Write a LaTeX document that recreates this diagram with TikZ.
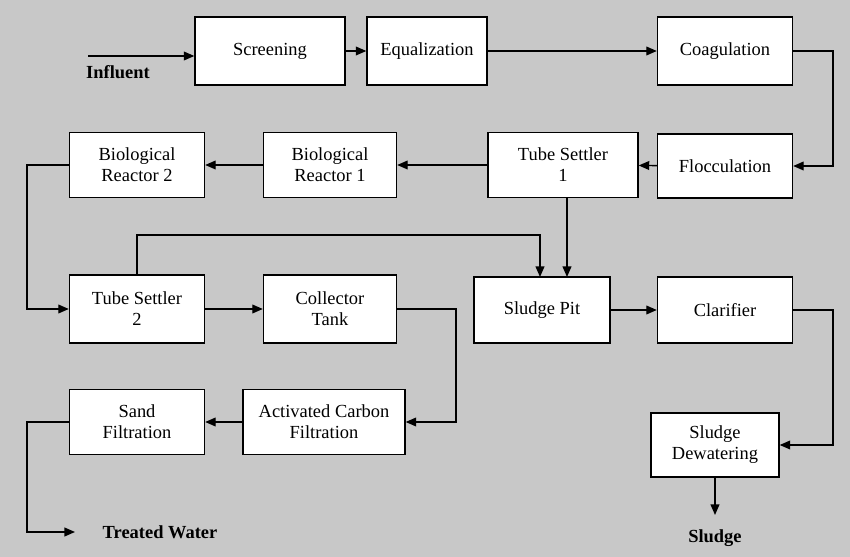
\documentclass[tikz,border=0pt]{standalone}
\usepackage{fontspec}
\setmainfont{Liberation Serif}
\usetikzlibrary{arrows.meta}
\begin{document}
\begin{tikzpicture}[x=0.02cm,y=-0.02cm,
  box/.style={draw,fill=white,line width=0.8pt,align=center,inner sep=0pt,font=\fontsize{10.5}{12}\selectfont},
  arr/.style={-{Triangle[length=6pt,width=5pt]},line width=0.8pt},
  lbl/.style={font=\fontsize{10.5}{12}\selectfont\bfseries}]
\fill[gray!40!white,fill={rgb,255:red,200;green,200;blue,200}] (0,0) rectangle (850,557);
\useasboundingbox (0,0) rectangle (850,557);
\node[box,minimum width=3cm,minimum height=1.36cm] (scr) at (270,51) {Screening};
\node[box,minimum width=2.4cm,minimum height=1.36cm] (eq) at (427,51) {Equalization};
\node[box,minimum width=2.7cm,minimum height=1.36cm] (coag) at (725,51) {Coagulation};
\node[box,minimum width=2.7cm,minimum height=1.28cm] (floc) at (725,166) {Flocculation};
\node[box,minimum width=3cm,minimum height=1.3cm] (ts1) at (563,165) {Tube Settler\\1};
\node[box,minimum width=2.66cm,minimum height=1.3cm] (br1) at (330,165) {Biological\\Reactor 1};
\node[box,minimum width=2.7cm,minimum height=1.3cm] (br2) at (137,165) {Biological\\Reactor 2};
\node[box,minimum width=2.7cm,minimum height=1.36cm] (ts2) at (137,309) {Tube Settler\\2};
\node[box,minimum width=2.66cm,minimum height=1.36cm] (ct) at (330,309) {Collector\\Tank};
\node[box,minimum width=2.72cm,minimum height=1.32cm] (sp) at (542,310) {Sludge Pit};
\node[box,minimum width=2.7cm,minimum height=1.32cm] (cl) at (725,310) {Clarifier};
\node[box,minimum width=3.24cm,minimum height=1.3cm] (acf) at (324,422) {Activated Carbon\\Filtration};
\node[box,minimum width=2.7cm,minimum height=1.3cm] (sf) at (137,422) {Sand\\Filtration};
\node[box,minimum width=2.56cm,minimum height=1.28cm] (sd) at (715,445) {Sludge\\Dewatering};
\node[lbl] (inf) at (118,72) {Influent};
\node[lbl] (tw) at (160,532) {Treated Water};
\node[lbl] (sl) at (715,538) {Sludge};
\coordinate (infs) at (88,56);
\draw[arr] (infs) -- (infs -| scr.west);
\draw[arr] (scr) -- (eq);
\draw[arr] (eq) -- (coag);
\draw[arr] (coag.east) -- ++(40,0) |- (floc.east);
\draw[arr] (floc) -- (ts1);
\draw[arr] (ts1) -- (br1);
\draw[arr] (br1) -- (br2);
\draw[arr] (br2.west) -- ++(-42,0) |- (ts2.west);
\draw[arr] (ts2) -- (ct);
\draw[arr] (ct.east) -- ++(59,0) |- (acf.east);
\draw[arr] (acf) -- (sf);
\coordinate (twe) at (75,532);
\draw[arr] (sf.west) -- ++(-42,0) |- (twe);
\draw[arr] (ts1.south -| 567,0) -- (567,277);
\draw[arr] (ts2.north) -- (137,235) -- (540,235) -- (540,277);
\draw[arr] (sp) -- (cl);
\draw[arr] (cl.east) -- ++(40,0) |- (sd.east);
\draw[arr] (sd.south) -- (715,515);
\end{tikzpicture}
\end{document}
